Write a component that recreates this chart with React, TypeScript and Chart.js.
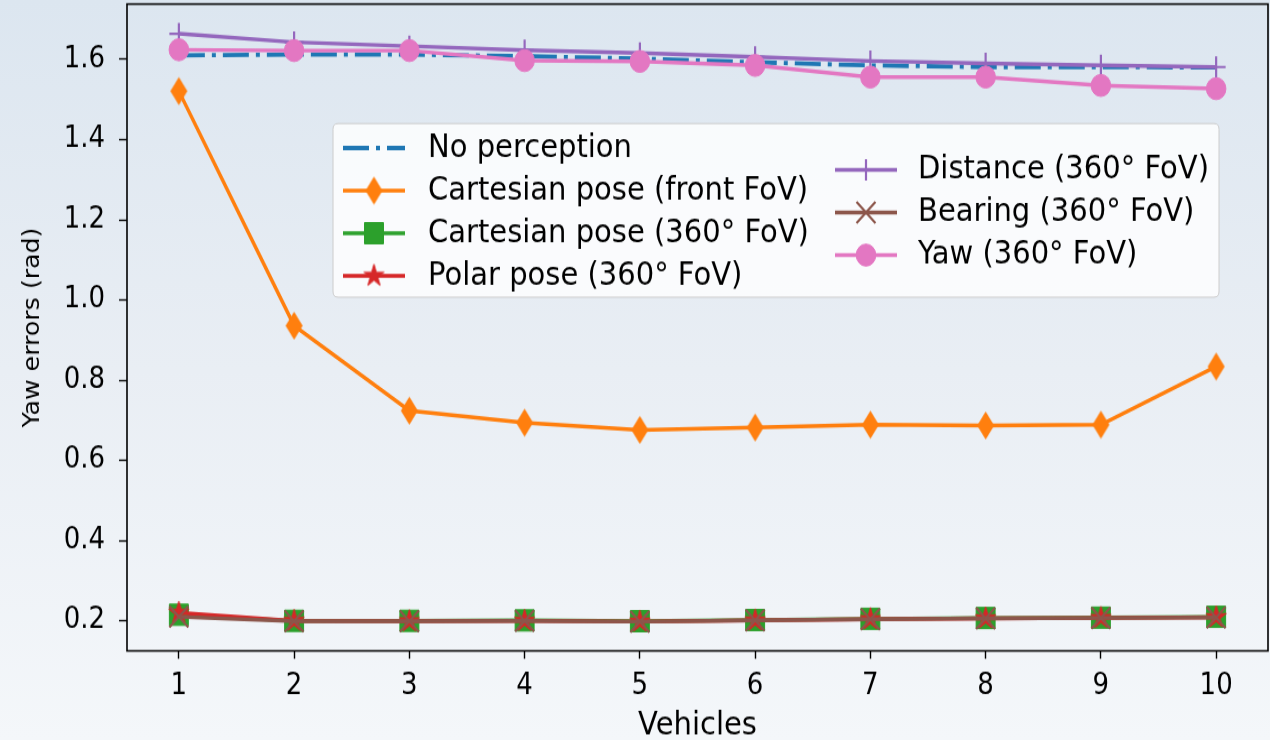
import React, { useEffect, useRef } from 'react';
import { Chart, registerables } from 'chart.js';
import { drawPoint } from 'chart.js/helpers';

Chart.register(...registerables);

// ---------- data ----------
const VEHICLES = [1, 2, 3, 4, 5, 6, 7, 8, 9, 10];
const X_TICKS = [1, 2, 3, 4, 5, 6, 7, 8, 9, 10];
const Y_TICKS = [0.2, 0.4, 0.6, 0.8, 1.0, 1.2, 1.4, 1.6];

const NO_PERCEPTION = [1.610, 1.612, 1.612, 1.608, 1.602, 1.593, 1.585, 1.581, 1.581, 1.580];
const CARTESIAN_FRONT = [1.521, 0.936, 0.724, 0.694, 0.676, 0.682, 0.689, 0.687, 0.689, 0.834];
const CARTESIAN_360 = [0.215, 0.200, 0.200, 0.201, 0.199, 0.202, 0.205, 0.207, 0.208, 0.210];
const POLAR_360 = [0.220, 0.200, 0.199, 0.200, 0.198, 0.201, 0.204, 0.206, 0.207, 0.209];
const DISTANCE_360 = [1.664, 1.643, 1.633, 1.623, 1.616, 1.606, 1.596, 1.590, 1.585, 1.581];
const BEARING_360 = [0.210, 0.199, 0.199, 0.200, 0.198, 0.201, 0.204, 0.206, 0.207, 0.208];
const YAW_360 = [1.624, 1.622, 1.622, 1.597, 1.595, 1.585, 1.556, 1.556, 1.535, 1.527];

const SERIES_LABELS = [
  'No perception',
  'Cartesian pose (front FoV)',
  'Cartesian pose (360° FoV)',
  'Polar pose (360° FoV)',
  'Distance (360° FoV)',
  'Bearing (360° FoV)',
  'Yaw (360° FoV)',
];
const SERIES_VALUES = [
  NO_PERCEPTION,
  CARTESIAN_FRONT,
  CARTESIAN_360,
  POLAR_360,
  DISTANCE_360,
  BEARING_360,
  YAW_360,
];
const X_TITLE = 'Vehicles';
const Y_TITLE = 'Yaw errors (rad)';

// ---------- style ----------
const COLORS = ['#1f77b4', '#ff7f0e', '#2ca02c', '#d62728', '#9467bd', '#8c564b', '#e377c2'];
const FONT = '"DejaVu Sans", "Liberation Sans", sans-serif';
const CANVAS_W = 1270;
const CANVAS_H = 660;

function makeDiamond(color: string, w: number, h: number) {
  const c = document.createElement('canvas');
  c.width = w + 2;
  c.height = h + 2;
  const ctx = c.getContext('2d')!;
  const cx = c.width / 2;
  const cy = c.height / 2;
  ctx.beginPath();
  ctx.moveTo(cx, cy - h / 2);
  ctx.lineTo(cx + w / 2, cy);
  ctx.lineTo(cx, cy + h / 2);
  ctx.lineTo(cx - w / 2, cy);
  ctx.closePath();
  ctx.fillStyle = color;
  ctx.fill();
  return c;
}

function makeStar(color: string, R: number) {
  const c = document.createElement('canvas');
  const s = Math.ceil(R * 2 + 4);
  c.width = s;
  c.height = s;
  const ctx = c.getContext('2d')!;
  const cx = s / 2;
  const cy = s / 2;
  ctx.beginPath();
  for (let k = 0; k < 10; k++) {
    const ang = -Math.PI / 2 + (k * Math.PI) / 5;
    const r = k % 2 === 0 ? R : R * 0.382;
    const px = cx + r * Math.cos(ang);
    const py = cy + r * Math.sin(ang);
    if (k === 0) ctx.moveTo(px, py);
    else ctx.lineTo(px, py);
  }
  ctx.closePath();
  ctx.fillStyle = color;
  ctx.strokeStyle = color;
  ctx.lineWidth = 1;
  ctx.fill();
  ctx.stroke();
  return c;
}

export default function App() {
  const ref = useRef<HTMLCanvasElement>(null);

  useEffect(() => {
    const canvas = ref.current;
    if (!canvas) return;

    const markers: any[] = [
      { style: 'circle', radius: 0, bw: 0 },
      { style: makeDiamond(COLORS[1], 17, 25), radius: 10, bw: 0 },
      { style: 'rect', radius: 13.4, bw: 1 },
      { style: makeStar(COLORS[3], 10.5), radius: 10, bw: 0 },
      { style: 'cross', radius: 9.5, bw: 2.2 },
      { style: 'crossRot', radius: 13.4, bw: 2.2 },
      { style: 'circle', radius: 9.8, bw: 1 },
    ];
    const dashes = [[26, 7, 4, 7], [], [], [], [], [], []];
    const widths = [3.8, 3.4, 3.4, 3.4, 3.4, 3.4, 3.4];

    const datasets = SERIES_VALUES.map((vals, i) => ({
      label: SERIES_LABELS[i],
      data: vals.map((v, j) => ({ x: VEHICLES[j], y: v })),
      borderColor: COLORS[i],
      backgroundColor: COLORS[i],
      borderWidth: widths[i],
      borderDash: dashes[i],
      borderCapStyle: 'butt' as const,
      pointStyle: markers[i].style,
      pointRadius: markers[i].radius,
      pointHoverRadius: markers[i].radius,
      pointBorderWidth: markers[i].bw,
      pointBackgroundColor: COLORS[i],
      pointBorderColor: COLORS[i],
      tension: 0,
      order: SERIES_VALUES.length - i,
    }));

    const framePlugin = {
      id: 'frame',
      afterDatasetsDraw(chart: any) {
        const { ctx, chartArea } = chart;
        const { left, top, right, bottom } = chartArea;
        ctx.save();
        ctx.strokeStyle = '#000';
        ctx.lineWidth = 1.6;
        ctx.setLineDash([]);
        ctx.strokeRect(left, top, right - left, bottom - top);
        ctx.restore();
      },
    };

    const legendPlugin = {
      id: 'customLegend',
      afterDraw(chart: any) {
        const ctx: CanvasRenderingContext2D = chart.ctx;
        const bx = 333, by = 110.2, bw = 886, bh = 154.8, br = 5;
        ctx.save();
        ctx.beginPath();
        ctx.moveTo(bx + br, by);
        ctx.lineTo(bx + bw - br, by);
        ctx.quadraticCurveTo(bx + bw, by, bx + bw, by + br);
        ctx.lineTo(bx + bw, by + bh - br);
        ctx.quadraticCurveTo(bx + bw, by + bh, bx + bw - br, by + bh);
        ctx.lineTo(bx + br, by + bh);
        ctx.quadraticCurveTo(bx, by + bh, bx, by + bh - br);
        ctx.lineTo(bx, by + br);
        ctx.quadraticCurveTo(bx, by, bx + br, by);
        ctx.closePath();
        ctx.fillStyle = 'rgba(255,255,255,0.8)';
        ctx.fill();
        ctx.strokeStyle = '#cccccc';
        ctx.lineWidth = 1;
        ctx.stroke();

        const leftRows = [132, 170, 208, 246];
        const rightRows = [151.5, 189.5, 227.5];
        const pos: { hx: number; tx: number; y: number }[] = [];
        leftRows.forEach((y) => pos.push({ hx: 343, tx: 428, y }));
        rightRows.forEach((y) => pos.push({ hx: 835, tx: 918, y }));

        chart.data.datasets.forEach((ds: any, i: number) => {
          const p = pos[i];
          if (!p) return;
          ctx.save();
          ctx.strokeStyle = ds.borderColor;
          ctx.lineWidth = ds.borderWidth;
          ctx.lineCap = 'butt';
          ctx.setLineDash(ds.borderDash || []);
          ctx.beginPath();
          ctx.moveTo(p.hx, p.y);
          ctx.lineTo(p.hx + 62, p.y);
          ctx.stroke();
          ctx.setLineDash([]);
          if (ds.pointRadius > 0) {
            ctx.fillStyle = ds.pointBackgroundColor;
            ctx.strokeStyle = ds.pointBorderColor;
            ctx.lineWidth = ds.pointBorderWidth;
            drawPoint(
              ctx,
              { pointStyle: ds.pointStyle, radius: ds.pointRadius, borderWidth: ds.pointBorderWidth, rotation: 0 } as any,
              p.hx + 31,
              p.y
            );
          }
          ctx.fillStyle = '#000';
          ctx.font = `29px ${FONT}`;
          ctx.textAlign = 'left';
          ctx.textBaseline = 'middle';
          ctx.fillText(ds.label, p.tx, p.y);
          ctx.restore();
        });
        ctx.restore();
      },
    };

    const chart = new Chart(canvas, {
      type: 'line',
      data: { datasets },
      options: {
        responsive: false,
        devicePixelRatio: 1,
        animation: false,
        events: [],
        layout: { autoPadding: false, padding: { top: 3.6, right: 2, left: 0, bottom: 0 } },
        plugins: {
          legend: { display: false },
          tooltip: { enabled: false },
        },
        scales: {
          x: {
            type: 'linear',
            min: 0.55,
            max: 10.45,
            afterBuildTicks: (s: any) => {
              s.ticks = X_TICKS.map((v) => ({ value: v }));
            },
            afterFit: (s: any) => {
              s.height = 79.5;
              s.paddingLeft = 0;
              s.paddingRight = 0;
              s.paddingTop = 0;
              s.paddingBottom = 0;
            },
            grid: {
              display: true,
              drawOnChartArea: false,
              drawTicks: true,
              tickLength: 7,
              tickWidth: 1.4,
              tickColor: '#000',
            },
            border: { display: false },
            ticks: {
              autoSkip: false,
              maxRotation: 0,
              minRotation: 0,
              padding: 9,
              color: '#000',
              font: { family: FONT, size: 26 },
              callback: (v: any) => String(v),
            },
            title: {
              display: true,
              text: X_TITLE,
              color: '#000',
              font: { family: FONT, size: 29, lineHeight: 0.86 },
              padding: { top: 0, bottom: 0 },
            },
          },
          y: {
            type: 'linear',
            min: 0.125,
            max: 1.738,
            afterBuildTicks: (s: any) => {
              s.ticks = Y_TICKS.map((v) => ({ value: v }));
            },
            afterFit: (s: any) => {
              s.width = 127;
              s.paddingLeft = 0;
              s.paddingRight = 0;
              s.paddingTop = 0;
              s.paddingBottom = 0;
            },
            grid: {
              display: true,
              drawOnChartArea: false,
              drawTicks: true,
              tickLength: 8,
              tickWidth: 1.4,
              tickColor: '#000',
            },
            border: { display: false },
            ticks: {
              autoSkip: false,
              padding: 14,
              color: '#000',
              font: { family: FONT, size: 26 },
              callback: (v: any) => Number(v).toFixed(1),
            },
            title: {
              display: true,
              text: Y_TITLE,
              color: '#000',
              font: { family: FONT, size: 22.5, lineHeight: 1.2 },
              padding: { top: 19.5, bottom: 0 },
            },
          },
        },
      } as any,
      plugins: [framePlugin, legendPlugin],
    });

    return () => chart.destroy();
  }, []);

  return (
    <div
      style={{
        position: 'fixed',
        left: 0,
        top: 0,
        width: 1270,
        height: 740,
        background: 'linear-gradient(180deg, #dce6f0 0%, #e9eef4 50%, #f4f7fa 100%)',
        overflow: 'hidden',
      }}
    >
      <canvas
        ref={ref}
        width={CANVAS_W}
        height={CANVAS_H}
        style={{ width: '1270px', height: '740px', display: 'block' }}
      />
    </div>
  );
}
